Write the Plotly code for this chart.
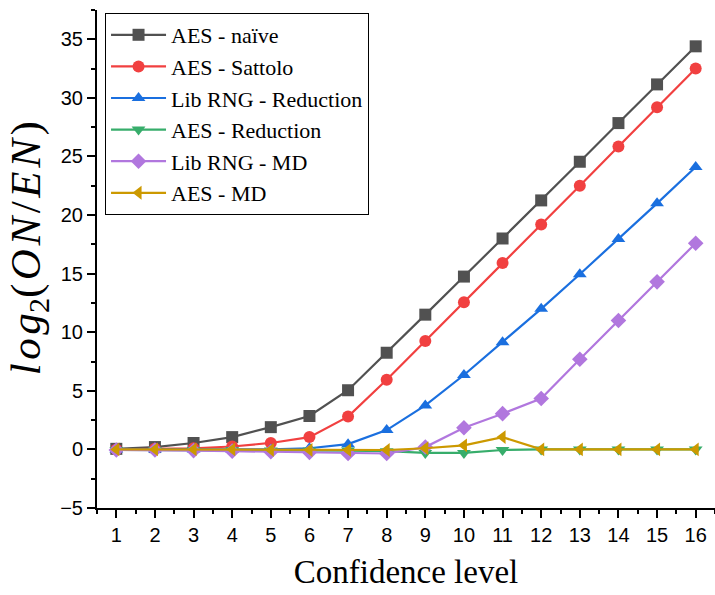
import plotly.graph_objects as go

levels = list(range(1, 17))
aes_naive = [0.05, 0.2, 0.55, 1.05, 1.9, 2.85, 5.05, 8.25, 11.5, 14.75, 18.0, 21.25, 24.55, 27.85, 31.15, 34.4]
aes_sattolo = [0.0, 0.05, 0.1, 0.25, 0.55, 1.05, 2.8, 5.95, 9.25, 12.55, 15.9, 19.2, 22.5, 25.85, 29.2, 32.5]
lib_reduction = [0.0, 0.0, 0.0, 0.0, 0.0, 0.1, 0.45, 1.65, 3.75, 6.35, 9.15, 12.0, 14.95, 17.95, 21.0, 24.1]
aes_reduction = [-0.05, -0.05, -0.05, -0.05, -0.1, -0.1, -0.1, -0.15, -0.3, -0.3, -0.05, 0.0, 0.0, 0.0, 0.0, 0.0]
lib_md = [-0.05, -0.05, -0.1, -0.15, -0.2, -0.25, -0.35, -0.35, 0.2, 1.85, 3.05, 4.35, 7.7, 11.0, 14.3, 17.6]
aes_md = [0.0, 0.0, 0.0, 0.0, -0.05, -0.05, -0.05, -0.05, 0.1, 0.35, 1.05, 0.0, 0.0, 0.0, 0.0, 0.0]

series = [
    ("AES - naïve", aes_naive, "#515151", "square"),
    ("AES - Sattolo", aes_sattolo, "#F14040", "circle"),
    ("Lib RNG - Reduction", lib_reduction, "#1A6FDF", "triangle-up"),
    ("AES - Reduction", aes_reduction, "#37AD6B", "triangle-down"),
    ("Lib RNG - MD", lib_md, "#B177DE", "diamond"),
    ("AES - MD", aes_md, "#CC9900", "triangle-left"),
]

SERIF = "Liberation Serif, Times New Roman, serif"

fig = go.Figure()
for i, (name, vals, color, sym) in enumerate(series):
    fig.add_trace(go.Scatter(
        x=levels, y=vals, name=name, mode="lines+markers",
        line=dict(color=color, width=2.2),
        marker=dict(symbol=sym, size=12, color=color),
        legendgroup=f"g{i}",
    ))

axis_common = dict(
    showline=True, linecolor="black", linewidth=2,
    ticks="outside", ticklen=8, tickwidth=1.5, tickcolor="black",
    showgrid=False, zeroline=False, mirror=False,
    tickfont=dict(family="Liberation Sans, Arial", size=20, color="black"),
)

hs = "&#8202;"
ytitle = f"&nbsp;&nbsp;<i>l{hs}o{hs}g</i><sub>2</sub>({hs}<i>O{hs}N</i>{hs}/{hs}<i>E{hs}N</i>{hs})"

fig.update_layout(
    width=715, height=595,
    margin=dict(l=97, r=0, t=10, b=87),
    plot_bgcolor="white", paper_bgcolor="white",
    xaxis=dict(
        range=[0.5, 16.5], tickmode="array", tickvals=levels,
        ticktext=[str(v) for v in levels],
        minor=dict(ticks="outside", ticklen=4, tickcolor="black", dtick=0.5, tick0=0.5, showgrid=False),
        title=dict(text="Confidence level", font=dict(family=SERIF, size=33, color="black"), standoff=15),
        **axis_common,
    ),
    yaxis=dict(
        range=[-5, 37.5], tickmode="linear", tick0=-5, dtick=5,
        minor=dict(ticks="outside", ticklen=4, tickcolor="black", dtick=2.5, showgrid=False),
        title=dict(text=ytitle, font=dict(family=SERIF, size=43, color="black"), standoff=6),
        **axis_common,
    ),
    legend=dict(
        x=0.013, y=0.994, xanchor="left", yanchor="top",
        bgcolor="white", bordercolor="black", borderwidth=1,
        font=dict(family=SERIF, size=22, color="black"),
        tracegroupgap=0, itemwidth=55,
    ),
    showlegend=True,
)

fig.write_html("out.html")
